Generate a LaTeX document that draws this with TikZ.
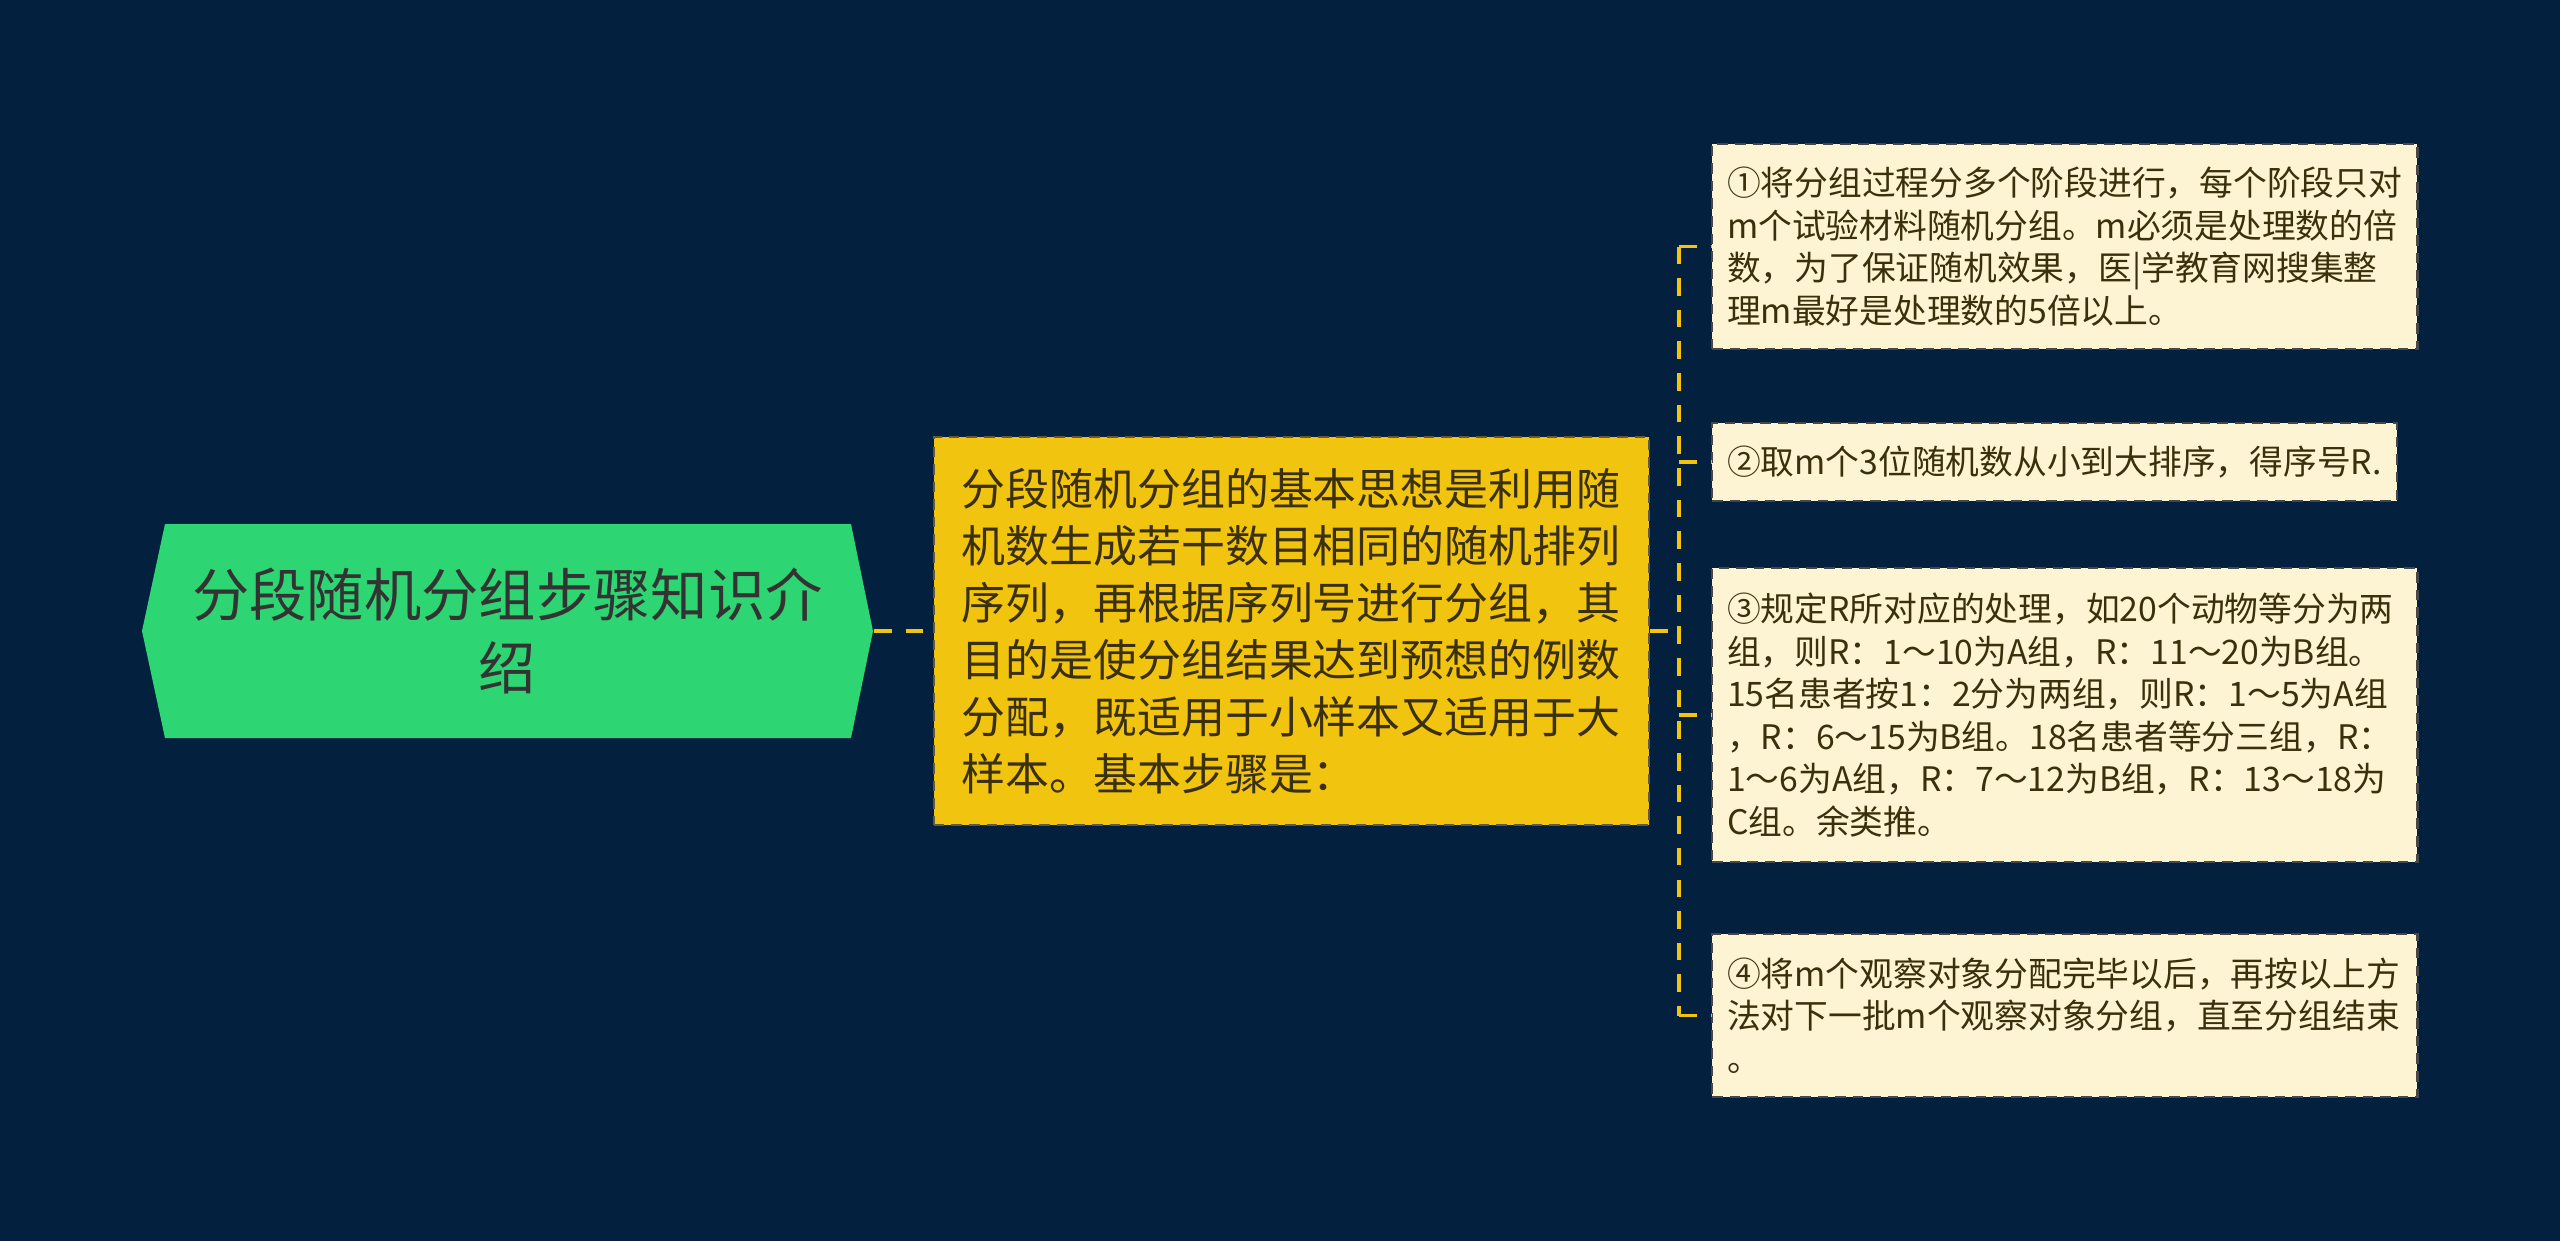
\documentclass[tikz,border=0pt]{standalone}
\usepackage{fontspec}
\setmainfont{Noto Sans CJK SC}
\usepackage{tikz}
\usetikzlibrary{positioning}
\definecolor{bgnavy}{HTML}{03213F}
\definecolor{rootgreen}{HTML}{2ED573}
\definecolor{mainyellow}{HTML}{F1C40F}
\definecolor{leafcream}{HTML}{FCF4D2}
\definecolor{linkyellow}{HTML}{F1C40F}
\definecolor{inkdark}{HTML}{333333}
\definecolor{inkbrown}{HTML}{3B300C}

\begin{document}
\begin{tikzpicture}[x=0.01cm, y=-0.01cm,
   link/.style={draw=linkyellow, line width=1.1pt, dash pattern=on 5pt off 4pt},
   root/.style={minimum width=7.31cm, minimum height=2.14cm, inner sep=0pt, align=center,
     text=inkdark, font=\fontsize{16.3}{20.8}\selectfont},
   mainbox/.style={fill=mainyellow, draw=inkbrown!80, line width=0.6pt, dash pattern=on 3pt off 2pt,
     text width=6.6cm, inner xsep=0.275cm, minimum height=3.88cm, align=left,
     text=inkbrown, font=\fontsize{12.5}{16.2}\selectfont},
   leaf/.style={fill=leafcream, draw=inkdark!90, line width=0.6pt, dash pattern=on 3pt off 2pt,
     inner xsep=0.15cm, align=left, anchor=west,
     text=inkbrown, font=\fontsize{9.6}{12.1}\selectfont}]
   \fill[bgnavy] (0,0) rectangle (2560,1241);
   \fill[rootgreen] (142,631) -- (165,524) -- (851,524) -- (873,631) -- (851,738) -- (165,738) -- cycle;
   \node[root] (root) at (507.5,631) {分段随机分组步骤知识介\\绍};
   \node[mainbox] (main) at (1291.5,631) {分段随机分组的基本思想是利用随\\机数生成若干数目相同的随机排列\\序列，再根据序列号进行分组，其\\目的是使分组结果达到预想的例数\\分配，既适用于小样本又适用于大\\样本。基本步骤是：};
   \begin{scope}[every node/.style={leaf}]
    \node[text width=6.75cm, minimum height=2.05cm] (leaf1) at (1711,246.5) {①将分组过程分多个阶段进行，每个阶段只对\\m个试验材料随机分组。m必须是处理数的倍\\数，为了保证随机效果，医|学教育网搜集整\\理m最好是处理数的5倍以上。};
    \node[minimum height=0.78cm] (leaf2) at (1711,462) {②取m个3位随机数从小到大排序，得序号R.};
    \node[text width=6.75cm, minimum height=2.94cm] (leaf3) at (1711,715) {③规定R所对应的处理，如20个动物等分为两\\组，则R：1～10为A组，R：11～20为B组。\\15名患者按1：2分为两组，则R：1～5为A组\\，R：6～15为B组。18名患者等分三组，R：\\1～6为A组，R：7～12为B组，R：13～18为\\C组。余类推。};
    \node[text width=6.75cm, minimum height=1.63cm] (leaf4) at (1711,1015.5) {④将m个观察对象分配完毕以后，再按以上方\\法对下一批m个观察对象分组，直至分组结束\\。};
   \end{scope}
   \draw[link] (root.east) -- (main.west);
   \draw[link] (main.east) -- ++(29,0) coordinate (fork);
   \draw[link] (fork |- leaf1.west) -- (fork |- leaf4.west);
   \foreach \n in {1,...,4}
    \draw[link] (fork |- leaf\n.west) -- (leaf\n.west);
\end{tikzpicture}
\end{document}
